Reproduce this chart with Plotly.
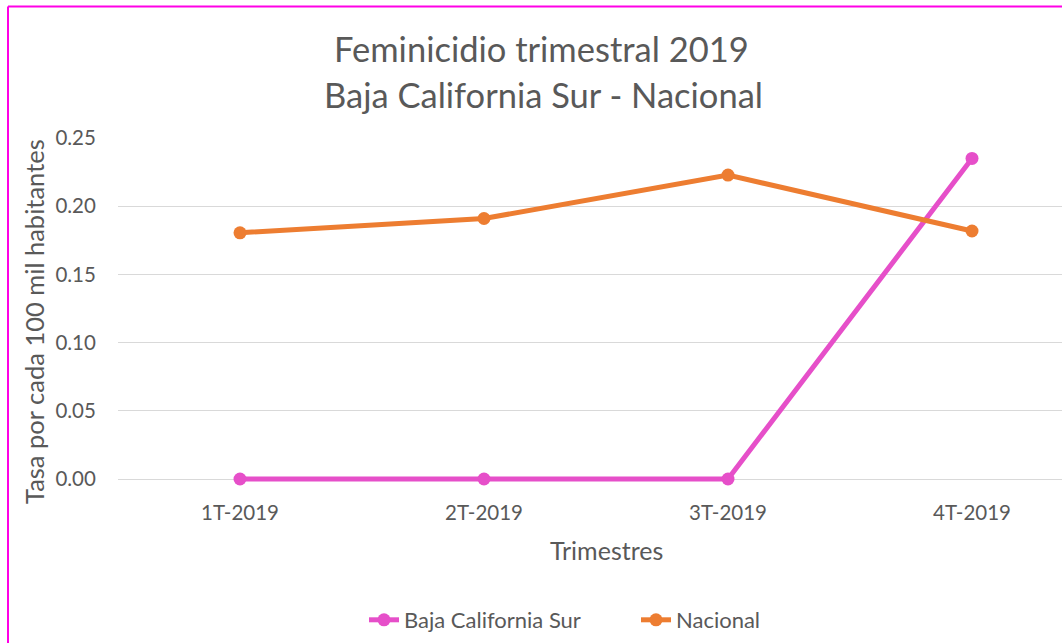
import plotly.graph_objects as go

categories = ["1T-2019", "2T-2019", "3T-2019", "4T-2019"]
bcs_values = [0.0, 0.0, 0.0, 0.235]
nacional_values = [0.1805, 0.191, 0.2228, 0.1818]
y_ticks = [0.0, 0.05, 0.10, 0.15, 0.20, 0.25]
y_tick_labels = ["0.00", "0.05", "0.10", "0.15", "0.20", "0.25"]

W, H = 1062, 643
L, R, T = 118, 0, 138
ZERO_Y = 479          # pixel row of y = 0
B = H - ZERO_Y - 7    # extend plot area slightly below zero so the zero line isn't clipped
px_per_unit = (ZERO_Y - T) / 0.25
y_min = -(H - B - ZERO_Y) / px_per_unit
pw, ph = W - L - R, H - T - B

def px_x(x):
    return (x - L) / pw

def px_y(y):
    return (H - B - y) / ph

FONT = "Lato"
GRAY = "#595959"
PINK = "#E64FC9"
ORANGE = "#ED7D31"
BORDER = "#FF00E6"

fig = go.Figure()
fig.add_trace(go.Scatter(
    x=list(range(len(categories))), y=bcs_values, name="Baja California Sur",
    mode="lines+markers", line=dict(color=PINK, width=5),
    marker=dict(size=13, color=PINK), cliponaxis=False))
fig.add_trace(go.Scatter(
    x=list(range(len(categories))), y=nacional_values, name="Nacional",
    mode="lines+markers", line=dict(color=ORANGE, width=5),
    marker=dict(size=13, color=ORANGE), cliponaxis=False))

fig.update_layout(
    width=W, height=H, autosize=False,
    margin=dict(l=L, r=R, t=T, b=B),
    paper_bgcolor="white", plot_bgcolor="white",
    font=dict(family=FONT, color=GRAY, size=20),
    showlegend=True,
    legend=dict(orientation="h", x=px_x(364), xanchor="left",
                y=px_y(620), yanchor="middle", font=dict(size=22, color=GRAY),
                entrywidth=227, entrywidthmode="pixels"),
    xaxis=dict(range=[-0.5, 3 + (W - 972) / 244.0],
               tickmode="array", tickvals=list(range(len(categories))),
               ticktext=categories, showgrid=False, zeroline=False,
               showline=False, ticks="outside", ticklen=8, tickcolor="rgba(0,0,0,0)",
               tickfont=dict(size=20.5, color=GRAY)),
    yaxis=dict(range=[y_min, 0.25], tickmode="array", tickvals=y_ticks,
               ticktext=y_tick_labels, showgrid=True, gridcolor="#D9D9D9",
               gridwidth=1.3, zeroline=False, showline=False,
               ticks="outside", ticklen=17, tickcolor="rgba(0,0,0,0)",
               tickfont=dict(size=20.5, color=GRAY)),
)

fig.add_annotation(text="Feminicidio trimestral 2019", xref="paper", yref="paper",
                   x=px_x(541), y=px_y(48), xanchor="center", yanchor="middle",
                   showarrow=False, font=dict(size=34.5, color=GRAY, family=FONT))
fig.add_annotation(text="Baja California Sur - Nacional", xref="paper", yref="paper",
                   x=px_x(543), y=px_y(95), xanchor="center", yanchor="middle",
                   showarrow=False, font=dict(size=34.5, color=GRAY, family=FONT))
fig.add_annotation(text="Trimestres", xref="x", yref="paper",
                   x=1.5, y=px_y(550), xanchor="center", yanchor="middle",
                   showarrow=False, font=dict(size=25, color=GRAY, family=FONT))
fig.add_annotation(text="Tasa por cada 100 mil habitantes", xref="paper", yref="paper",
                   x=px_x(34), y=px_y(322), xanchor="center", yanchor="middle",
                   textangle=-90, showarrow=False,
                   font=dict(size=25.5, color=GRAY, family=FONT))

# chart-area border (left and top edges visible in the crop)
fig.add_shape(type="line", xref="paper", yref="paper",
              x0=px_x(8), x1=px_x(W + 5), y0=px_y(6.5), y1=px_y(6.5),
              line=dict(color=BORDER, width=2), layer="above")
fig.add_shape(type="line", xref="paper", yref="paper",
              x0=px_x(8), x1=px_x(8), y0=px_y(6.5), y1=px_y(H + 5),
              line=dict(color=BORDER, width=2), layer="above")

fig.write_html("out.html", post_script="document.body.style.margin='0';",
               config={"displayModeBar": False})
